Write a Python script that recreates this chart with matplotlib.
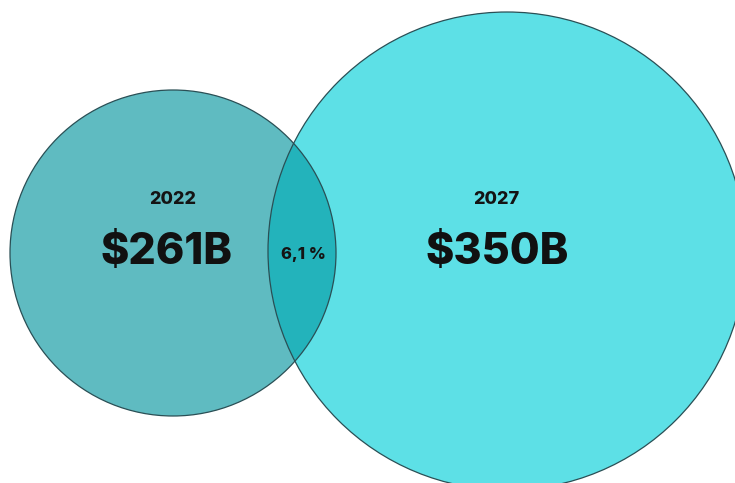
import matplotlib

matplotlib.use("Agg")
import matplotlib.pyplot as plt
from matplotlib.patches import Circle

# data
years = ["2022", "2027"]
labels = ["$261B", "$350B"]
growth = "6,1 %"

# layout (pixel space, y grows downward)
W, H = 735, 483
centers = [(173, 253), (507, 251)]
radii = [163, 239]
fills = ["#5fbbc1", "#5de0e6"]
overlap_fill = "#23b3bb"
edge = "#2a4f55"
FONT = ["Inter", "DejaVu Sans"]

fig = plt.figure(figsize=(W / 100, H / 100), dpi=100)
ax = fig.add_axes([0, 0, 1, 1])
ax.set_xlim(0, W)
ax.set_ylim(H, 0)
ax.set_aspect("equal")
ax.axis("off")

for (cx, cy), r, fc in zip(centers, radii, fills):
    ax.add_patch(Circle((cx, cy), r, facecolor=fc, edgecolor="none", zorder=1))

# overlap region: left circle clipped to the right one
clip = Circle(centers[1], radii[1], transform=ax.transData)
lens = Circle(centers[0], radii[0], facecolor=overlap_fill, edgecolor="none", zorder=2)
ax.add_patch(lens)
lens.set_clip_path(clip)

for (cx, cy), r in zip(centers, radii):
    ax.add_patch(Circle((cx, cy), r, facecolor="none", edgecolor=edge,
                        linewidth=0.9, zorder=3))

# text
text_pos = [(173, 200, 167, 252), (496, 200, 497, 252)]
for (yx, yy, lx, ly), yr, lab in zip(text_pos, years, labels):
    ax.text(yx, yy, yr, ha="center", va="center", fontsize=13,
            fontweight="heavy", color="#141414", family=FONT, zorder=4)
    ax.text(lx, ly, lab, ha="center", va="center", fontsize=31,
            fontweight="heavy", color="#111111", family=FONT, zorder=4)

ax.text(303, 255, growth, ha="center", va="center", fontsize=12,
        fontweight="heavy", color="#141414", family=FONT, zorder=4)

fig.savefig("out.png", dpi=100, facecolor="white")
